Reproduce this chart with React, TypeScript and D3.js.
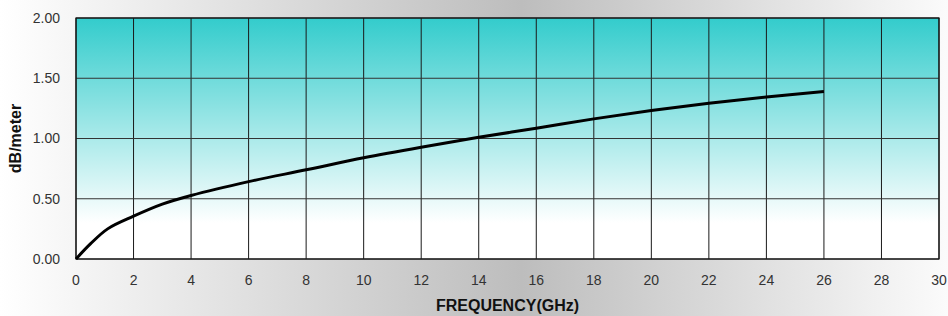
import React from "react";
import * as d3 from "d3";

const freqGHz = [0, 0.5, 1.1, 2, 3, 4, 6, 8, 10, 12, 14, 16, 18, 20, 22, 24, 26];
const lossDbPerMeter = [0, 0.125, 0.25, 0.355, 0.455, 0.527, 0.642, 0.74, 0.84, 0.928, 1.01, 1.085, 1.163, 1.232, 1.293, 1.345, 1.39];
const xTicks = [0, 2, 4, 6, 8, 10, 12, 14, 16, 18, 20, 22, 24, 26, 28, 30];
const yTicks = [0, 0.5, 1.0, 1.5, 2.0];

const W = 948;
const H = 316;
const M = { left: 76, right: 9, top: 18, bottom: 57 };

export default function App() {
  const x = d3.scaleLinear().domain([0, 30]).range([M.left, W - M.right]);
  const y = d3.scaleLinear().domain([0, 2]).range([H - M.bottom, M.top]);
  const pts = freqGHz.map((f, i) => [f, lossDbPerMeter[i]] as [number, number]);
  const line = d3
    .line<[number, number]>()
    .x((d) => x(d[0]))
    .y((d) => y(d[1]))
    .curve(d3.curveCatmullRom.alpha(0.5));
  const font = "'Liberation Sans', Arial, sans-serif";
  const x0 = x(0), x1 = x(30), y0 = y(0), y1 = y(2);
  return (
    <svg
      width={W}
      height={H}
      style={{ position: "absolute", left: 0, top: 0, display: "block" }}
    >
      <defs>
        <linearGradient id="bg" x1="0" y1="0" x2="1" y2="0">
          <stop offset="0" stopColor="#ffffff" />
          <stop offset="0.55" stopColor="#bdbdbd" />
          <stop offset="1" stopColor="#fbfbfb" />
        </linearGradient>
        <linearGradient id="plot" x1="0" y1="0" x2="0" y2="1">
          <stop offset="0" stopColor="#33cccc" />
          <stop offset="0.85" stopColor="#ffffff" />
          <stop offset="1" stopColor="#ffffff" />
        </linearGradient>
      </defs>
      <rect x={0} y={0} width={W} height={H} fill="url(#bg)" />
      <rect x={x0} y={y1} width={x1 - x0} height={y0 - y1} fill="url(#plot)" />
      {xTicks.map((t) => (
        <line key={"gx" + t} x1={x(t)} x2={x(t)} y1={y1} y2={y0} stroke="#1a1a1a" strokeWidth={1} />
      ))}
      {yTicks.map((t) => (
        <line key={"gy" + t} x1={x0} x2={x1} y1={y(t)} y2={y(t)} stroke="#333" strokeWidth={1} />
      ))}
      <rect x={x0} y={y1} width={x1 - x0} height={y0 - y1} fill="none" stroke="#111" strokeWidth={1.2} />
      <path d={line(pts) || ""} fill="none" stroke="#000" strokeWidth={3} strokeLinejoin="round" strokeLinecap="butt" />
      {xTicks.map((t) => (
        <text key={"tx" + t} x={x(t)} y={285} textAnchor="middle" fontFamily={font} fontSize={14} fill="#333">
          {t}
        </text>
      ))}
      {yTicks.map((t) => (
        <text key={"ty" + t} x={60} y={y(t)} dy="0.35em" textAnchor="end" fontFamily={font} fontSize={14} fill="#333">
          {t.toFixed(2)}
        </text>
      ))}
      <text x={(x0 + x1) / 2} y={311} textAnchor="middle" fontFamily={font} fontSize={16} fontWeight="bold" fill="#111">
        FREQUENCY(GHz)
      </text>
      <text
        transform={`translate(21, ${(y0 + y1) / 2}) rotate(-90)`}
        textAnchor="middle"
        fontFamily={font}
        fontSize={16}
        fontWeight="bold"
        fill="#111"
      >
        dB/meter
      </text>
    </svg>
  );
}
